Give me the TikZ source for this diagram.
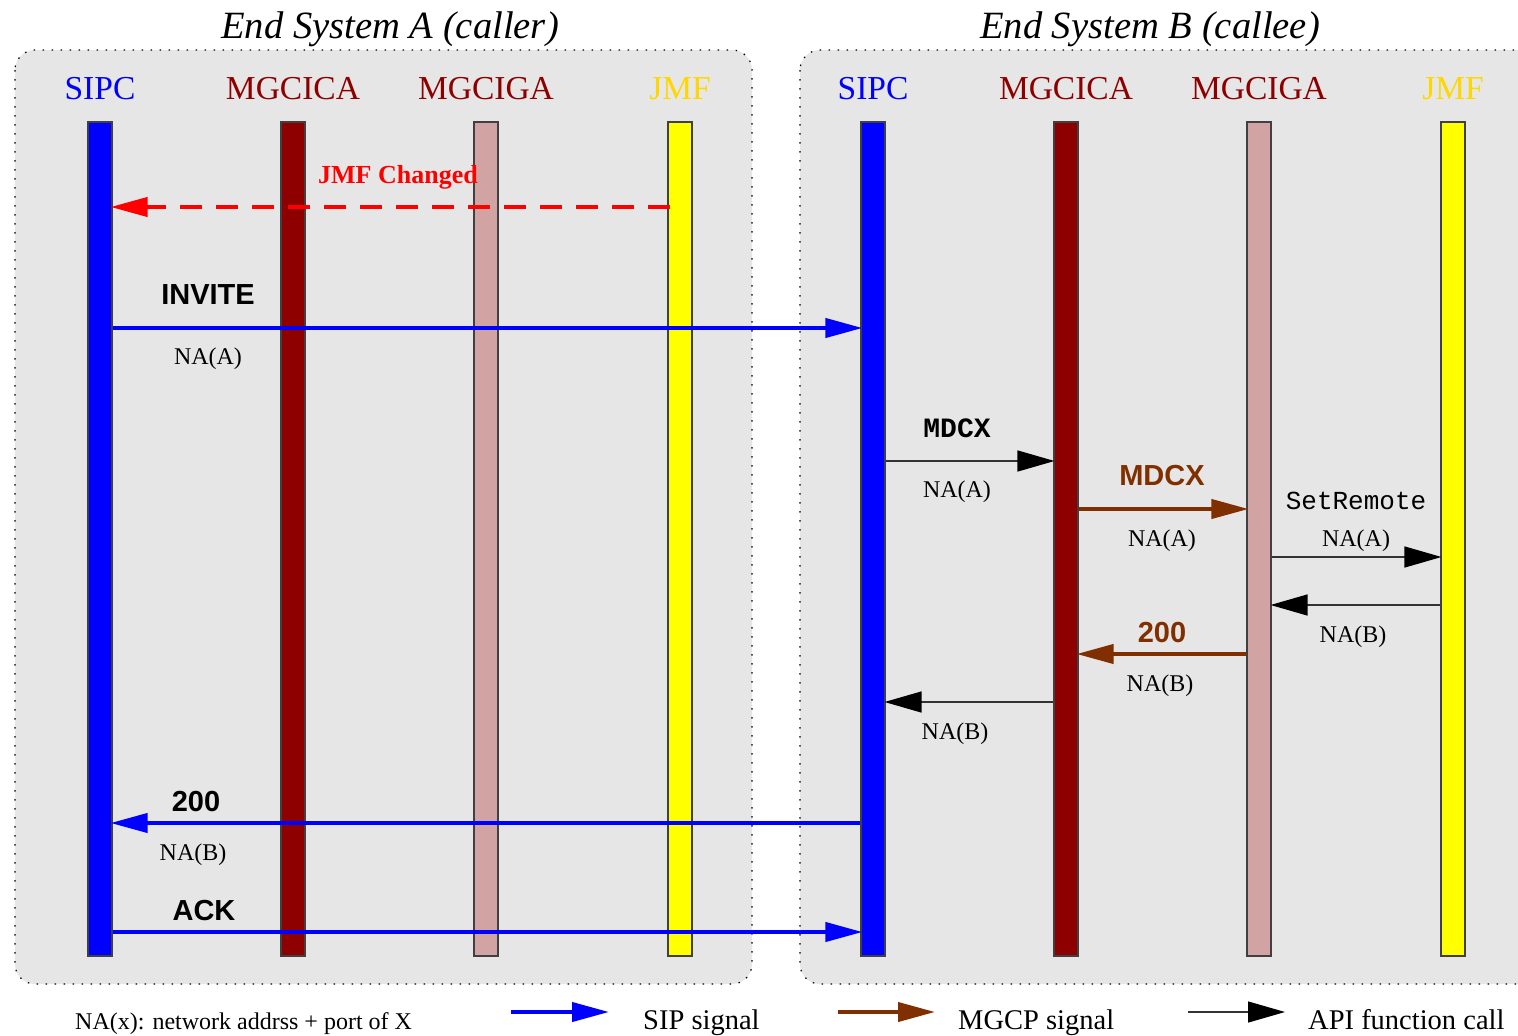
\documentclass[tikz,border=0pt]{standalone}
\usepackage{fontspec}
\setmainfont{Liberation Serif}
\setsansfont{Liberation Sans}
\setmonofont{Liberation Mono}
\usetikzlibrary{arrows.meta,calc}
\definecolor{bggray}{RGB}{230,230,230}
\definecolor{sipblue}{RGB}{0,0,255}
\definecolor{darkred}{RGB}{142,0,0}
\definecolor{pinkbar}{RGB}{210,163,163}
\definecolor{jmfyellow}{RGB}{255,255,0}
\definecolor{jmfgold}{RGB}{255,215,0}
\definecolor{mgcpbrown}{RGB}{128,48,0}
\definecolor{sigred}{RGB}{255,0,0}
\tikzset{
  sysbox/.style={fill=bggray, draw=black, line width=1.2pt, dash pattern=on 1.5pt off 7.5pt, rounded corners=20pt},
  bar/.style={draw=black!75, line width=1.1pt, minimum width=24pt, minimum height=834pt, inner sep=0pt},
  tip/.style={-{Triangle[length=37pt,width=19pt]}, shorten >=-2pt},
  sip/.style={draw=sipblue, line width=4pt, tip},
  mgcp/.style={draw=mgcpbrown, line width=4pt, tip},
  api/.style={draw=black!80, line width=1.3pt, -{Triangle[length=37pt,width=21pt,black]}, shorten >=-1pt},
  jmfsig/.style={draw=sigred, line width=4pt, dash pattern=on 22pt off 14pt, tip},
  txt/.style={anchor=base, inner sep=0pt},
  title/.style={txt, font=\fontsize{38.6}{39}\selectfont\itshape},
  actor/.style={txt, font=\fontsize{33.5}{34}\selectfont},
  msgsf/.style={txt, font=\fontsize{29}{29}\selectfont\sffamily\bfseries},
  msgtt/.style={txt, font=\fontsize{28}{28}\selectfont\ttfamily\bfseries},
  apitt/.style={txt, font=\fontsize{26}{26}\selectfont\ttfamily},
  na/.style={txt, font=\fontsize{24}{24}\selectfont},
  legend/.style={anchor=base west, inner sep=0pt, font=\fontsize{28.5}{29}\selectfont},
}
\begin{document}
\begin{tikzpicture}[x=1pt,y=-1pt]
\useasboundingbox (0,0) rectangle (1518,1036);
\clip (0,0) rectangle (1518,1036);
\fill[white] (0,0) rectangle (1518,1036);

% system boxes
\draw[sysbox] (15,50) rectangle (752,984);
\draw[sysbox] (800,50) rectangle (1560,984);

% titles
\node[title] (tA) at (390,38) {End System A (caller)};
\node[title] (tB) at (1150,38) {End System B (callee)};

% actor labels
\node[actor, text=sipblue] (laS) at (100,99) {SIPC};
\node[actor, text=darkred] (laA) at (293,99) {MGCICA};
\node[actor, text=darkred] (laG) at (486,99) {MGCIGA};
\node[actor, text=jmfgold] (laJ) at (680,99) {JMF};
\node[actor, text=sipblue] (lbS) at (873,99) {SIPC};
\node[actor, text=darkred] (lbA) at (1066,99) {MGCICA};
\node[actor, text=darkred] (lbG) at (1259,99) {MGCIGA};
\node[actor, text=jmfgold] (lbJ) at (1453,99) {JMF};

% lifeline bars
\node[bar, fill=sipblue] (aS) at (100,539) {};
\node[bar, fill=darkred] (aA) at (293,539) {};
\node[bar, fill=pinkbar] (aG) at (486,539) {};
\node[bar, fill=jmfyellow] (aJ) at (680,539) {};
\node[bar, fill=sipblue] (bS) at (873,539) {};
\node[bar, fill=darkred] (bA) at (1066,539) {};
\node[bar, fill=pinkbar] (bG) at (1259,539) {};
\node[bar, fill=jmfyellow] (bJ) at (1453,539) {};

% message rows
\coordinate (r1) at (0,207);
\coordinate (r2) at (0,328);
\coordinate (r3) at (0,461);
\coordinate (r4) at (0,509);
\coordinate (r5) at (0,557);
\coordinate (r6) at (0,605);
\coordinate (r7) at (0,654);
\coordinate (r8) at (0,702);
\coordinate (r9) at (0,823);
\coordinate (r10) at (0,932);

% JMF changed
\draw[jmfsig] ($(aJ.west |- r1)+(3,0)$) -- (aS.east |- r1);
\node[txt, font=\fontsize{26}{26}\selectfont\bfseries, text=sigred] (lJC) at (398,183.5) {JMF Changed};

% INVITE
\draw[sip] (aS.east |- r2) -- (bS.west |- r2);
\node[msgsf] (lInv) at (208,304.5) {INVITE};
\node[na] (lInvNA) at (208,364) {NA(A)};

% MDCX API
\draw[api] (bS.east |- r3) -- (bA.west |- r3);
\node[msgtt] (lM1) at (957,437) {MDCX};
\node[na] (lM1NA) at (957,497) {NA(A)};

% MDCX MGCP
\draw[mgcp] (bA.east |- r4) -- (bG.west |- r4);
\node[msgsf, text=mgcpbrown] (lM2) at (1162,485.5) {MDCX};
\node[na] (lM2NA) at (1162,546) {NA(A)};

% SetRemote
\draw[api] (bG.east |- r5) -- (bJ.west |- r5);
\node[apitt] (lSR) at (1356,509) {SetRemote};
\node[na] (lSRNA) at (1356,546) {NA(A)};

% return from JMF
\draw[api] (bJ.west |- r6) -- (bG.east |- r6);
\node[na] (lR6) at (1353,642) {NA(B)};

% 200 MGCP
\draw[mgcp] (bG.west |- r7) -- (bA.east |- r7);
\node[msgsf, text=mgcpbrown] (l200b) at (1162,642.5) {200};
\node[na] (l200bNA) at (1160,691) {NA(B)};

% return to SIPC
\draw[api] (bA.west |- r8) -- (bS.east |- r8);
\node[na] (lR8) at (955,739) {NA(B)};

% 200 SIP
\draw[sip] (bS.west |- r9) -- (aS.east |- r9);
\node[msgsf] (l200a) at (196,811.5) {200};
\node[na] (l200aNA) at (193,860) {NA(B)};

% ACK
\draw[sip] (aS.east |- r10) -- (bS.west |- r10);
\node[msgsf] (lAck) at (204,920.5) {ACK};

% legend
\node[legend, font=\fontsize{24}{24}\selectfont] (lgNA) at (75,1029) {NA(x): network addrss + port of X};
\coordinate (lg1a) at (511,1012);
\coordinate (lg1b) at (607,1012);
\draw[sip] (lg1a) -- (lg1b);
\node[legend] (lg1) at (643,1029) {SIP signal};
\coordinate (lg2a) at (838,1012);
\coordinate (lg2b) at (933,1012);
\draw[mgcp] (lg2a) -- (lg2b);
\node[legend] (lg2) at (958,1029) {MGCP signal};
\coordinate (lg3a) at (1188,1012);
\coordinate (lg3b) at (1284,1012);
\draw[api] (lg3a) -- (lg3b);
\node[legend] (lg3) at (1308,1029) {API function call};
\end{tikzpicture}
\end{document}
